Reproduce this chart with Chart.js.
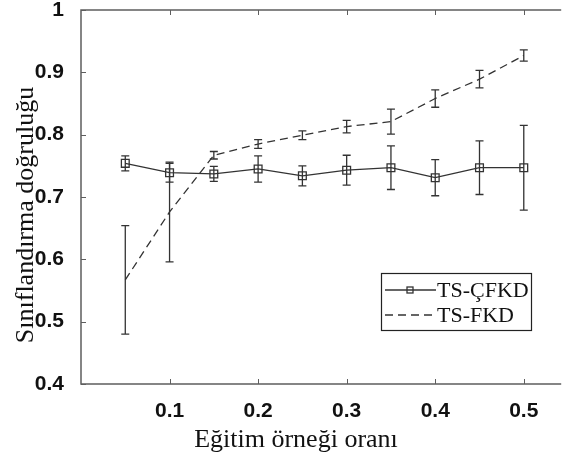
<!DOCTYPE html>
<html>
<head>
<meta charset="utf-8">
<script src="https://cdn.jsdelivr.net/npm/chart.js@4/dist/chart.umd.min.js"></script>
<style>
  html, body { margin: 0; padding: 0; background: #fff; }
  #wrap { width: 566px; height: 460px; }
</style>
</head>
<body>
<div id="wrap"><canvas id="chart" width="566" height="460"></canvas></div>
<script>
var xValues = [0.05, 0.1, 0.15, 0.2, 0.25, 0.3, 0.35, 0.4, 0.45, 0.5];
var cfkdMean = [0.754, 0.739, 0.737, 0.745, 0.734, 0.743, 0.747, 0.731, 0.747, 0.747];
var cfkdErr = [0.012, 0.015, 0.012, 0.021, 0.016, 0.024, 0.035, 0.029, 0.043, 0.068];
var fkdMean = [0.567, 0.676, 0.767, 0.785, 0.799, 0.813, 0.821, 0.858, 0.889, 0.927];
var fkdErr = [0.087, 0.080, 0.006, 0.007, 0.007, 0.010, 0.020, 0.014, 0.014, 0.009];
var xTicks = [0.1, 0.2, 0.3, 0.4, 0.5];
var yTicks = [0.4, 0.5, 0.6, 0.7, 0.8, 0.9, 1];
var seriesNames = ['TS-ÇFKD', 'TS-FKD'];
var xTitle = 'Eğitim örneği oranı';
var yTitle = 'Sınıflandırma doğruluğu';

var frameColor = '#5e5e5e';
var lineColor = '#333333';
var serif = '"Liberation Serif", "Times New Roman", serif';
var sans = '"Liberation Sans", Arial, sans-serif';

function toPoints(xs, ys) {
  return xs.map(function(x, i) { return { x: x, y: ys[i] }; });
}

// error bars, frame, inward ticks, titles and boxed legend
var extras = {
  id: 'extras',
  afterDatasetsDraw: function(chart) {
    var ctx = chart.ctx;
    var xs = chart.scales.x, ys = chart.scales.y;
    var area = chart.chartArea;
    var errs = [cfkdErr, fkdErr];

    ctx.save();
    ctx.strokeStyle = lineColor;
    ctx.lineWidth = 1.3;
    chart.data.datasets.forEach(function(ds, k) {
      ds.data.forEach(function(p, i) {
        var px = xs.getPixelForValue(p.x);
        var top = ys.getPixelForValue(p.y + errs[k][i]);
        var bot = ys.getPixelForValue(p.y - errs[k][i]);
        ctx.beginPath();
        ctx.moveTo(px, top); ctx.lineTo(px, bot);
        ctx.moveTo(px - 4, top); ctx.lineTo(px + 4, top);
        ctx.moveTo(px - 4, bot); ctx.lineTo(px + 4, bot);
        ctx.stroke();
      });
    });

    ctx.strokeStyle = frameColor;
    ctx.lineWidth = 1.5;
    ctx.beginPath();
    ctx.moveTo(area.right + 2, area.top);
    ctx.lineTo(area.left, area.top);
    ctx.lineTo(area.left, area.bottom);
    ctx.lineTo(area.right + 2, area.bottom);
    ctx.stroke();

    ctx.lineWidth = 1;
    ctx.beginPath();
    xTicks.forEach(function(v) {
      var px = Math.round(xs.getPixelForValue(v)) + 0.5;
      ctx.moveTo(px, area.bottom); ctx.lineTo(px, area.bottom - 5);
      ctx.moveTo(px, area.top); ctx.lineTo(px, area.top + 5);
    });
    yTicks.forEach(function(v) {
      var py = Math.round(ys.getPixelForValue(v)) + 0.5;
      ctx.moveTo(area.left, py); ctx.lineTo(area.left + 5, py);
    });
    ctx.stroke();

    ctx.fillStyle = '#111';
    ctx.font = '26px ' + serif;
    ctx.textAlign = 'center';
    ctx.textBaseline = 'alphabetic';
    ctx.fillText(xTitle, 296, 447);
    ctx.save();
    ctx.translate(33, 215);
    ctx.rotate(-Math.PI / 2);
    ctx.fillText(yTitle, 0, 0);
    ctx.restore();

    // legend box
    var bx = 381, by = 273, bw = 150, bh = 57;
    ctx.fillStyle = '#fff';
    ctx.fillRect(bx, by, bw, bh);
    ctx.strokeStyle = '#222';
    ctx.lineWidth = 1.2;
    ctx.strokeRect(bx + 0.5, by + 0.5, bw, bh);
    chart.data.datasets.forEach(function(ds, k) {
      var cy = by + 17 + k * 25;
      ctx.strokeStyle = lineColor;
      ctx.lineWidth = 1.3;
      ctx.setLineDash(ds.borderDash || []);
      ctx.beginPath();
      ctx.moveTo(bx + 4, cy); ctx.lineTo(bx + 55, cy);
      ctx.stroke();
      ctx.setLineDash([]);
      if (ds.pointRadius > 0) {
        ctx.strokeRect(bx + 26, cy - 3, 6, 6);
      }
      ctx.fillStyle = '#111';
      ctx.font = '22px ' + serif;
      ctx.textAlign = 'left';
      ctx.textBaseline = 'middle';
      ctx.fillText(ds.label, bx + 56, cy + 1);
    });
    ctx.restore();
  }
};

new Chart(document.getElementById('chart'), {
  type: 'line',
  data: {
    datasets: [
      {
        label: seriesNames[0],
        data: toPoints(xValues, cfkdMean),
        borderColor: lineColor,
        borderWidth: 1.3,
        pointStyle: 'rect',
        pointRadius: 5.5,
        pointBorderWidth: 1.3,
        pointBorderColor: lineColor,
        pointBackgroundColor: 'rgba(0,0,0,0)',
        tension: 0
      },
      {
        label: seriesNames[1],
        data: toPoints(xValues, fkdMean),
        borderColor: lineColor,
        borderWidth: 1.3,
        borderDash: [8, 5],
        pointRadius: 0,
        tension: 0
      }
    ]
  },
  plugins: [extras],
  options: {
    responsive: false,
    animation: false,
    layout: { padding: { top: 10, right: 0, left: 0, bottom: 0 } },
    plugins: {
      legend: { display: false },
      tooltip: { enabled: false }
    },
    scales: {
      x: {
        type: 'linear',
        min: 0,
        max: 0.54,
        afterBuildTicks: function(scale) {
          scale.ticks = xTicks.map(function(v) { return { value: v }; });
        },
        afterFit: function(scale) {
          scale.height = 76;
          scale.paddingLeft = 0;
          scale.paddingRight = 0;
        },
        grid: { display: false },
        border: { display: false },
        ticks: {
          padding: 7,
          color: '#111',
          font: { family: sans, size: 21, weight: 'bold' },
          callback: function(v) { return String(v); }
        }
      },
      y: {
        min: 0.4,
        max: 1,
        afterBuildTicks: function(scale) {
          scale.ticks = yTicks.map(function(v) { return { value: v }; });
        },
        afterFit: function(scale) {
          scale.width = 81;
          scale.paddingTop = 0;
          scale.paddingBottom = 0;
        },
        grid: { display: false },
        border: { display: false },
        ticks: {
          padding: 9,
          color: '#111',
          font: { family: sans, size: 21, weight: 'bold' },
          callback: function(v) { return String(v); }
        }
      }
    }
  }
});
</script>
</body>
</html>
